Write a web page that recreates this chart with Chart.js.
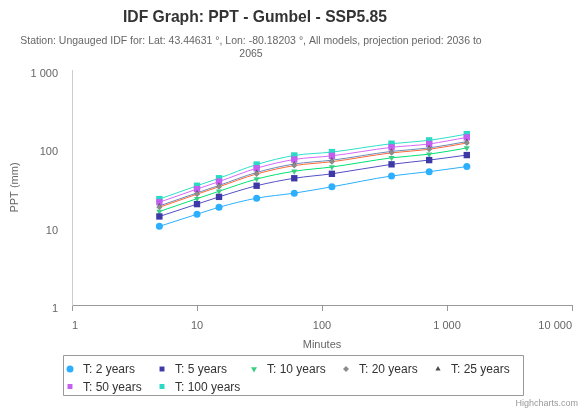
<!DOCTYPE html>
<html>
<head>
<meta charset="utf-8">
<title>IDF Graph</title>
<script src="https://cdn.jsdelivr.net/npm/chart.js"></script>
<style>
html, body { margin:0; padding:0; background:#fff; }
#wrap { width:581px; height:409px; position:relative; }
</style>
</head>
<body>
<div id="wrap"><canvas id="idfChart" width="581" height="409"></canvas></div>
<script>

const minutes = [5, 10, 15, 30, 60, 120, 360, 720, 1440];

const t2 = [10.1, 14.4, 17.7, 23.1, 26.8, 32.3, 44.4, 50.4, 58.5];
const t5 = [13.5, 19.4, 24.0, 33.3, 41.5, 47.3, 62.5, 70.8, 82.0];
const t10 = [15.6, 22.8, 28.3, 40.5, 51.0, 57.8, 75.6, 84.2, 101];
const t20 = [17.7, 26.0, 32.3, 47.1, 60.2, 67.5, 87.6, 97.1, 117];
const t25 = [18.4, 27.0, 33.6, 49.2, 63.1, 70.6, 91.4, 101.2, 122];
const t50 = [20.5, 30.2, 37.6, 55.7, 72.1, 80.2, 103.0, 113.8, 138];
const t100 = [22.5, 33.3, 41.5, 62.1, 81.1, 89.6, 114.6, 126.4, 152];

const seriesNames = ["T: 2 years", "T: 5 years", "T: 10 years", "T: 20 years", "T: 25 years", "T: 50 years", "T: 100 years"];
const seriesValues = [t2, t5, t10, t20, t25, t50, t100];

const xTickValues = [1, 10, 100, 1000, 10000];
const yTickValues = [1, 10, 100, 1000];

const titleText = "IDF Graph: PPT - Gumbel - SSP5.85";
const subtitleLines = [
    "Station: Ungauged IDF for: Lat: 43.44631 °, Lon: -80.18203 °, All models, projection period: 2036 to",
    "2065"
];

const lineColors = ["#2caffe", "#544fc5", "#00e272", "#fe6a35", "#6b8abc", "#d568fb", "#2ee0ca"];
const markerColors = ["#2caffe", "#3d3aa8", "#3ccf84", "#8c8c8c", "#4a4a4a", "#c45ff0", "#2bd9c4"];
const markerStyles = ["circle", "rect", "triangle", "rectRot", "triangle", "rect", "rect"];
const markerRotation = [0, 0, 180, 0, 0, 0, 0];
const markerRadius = [3.5, 4.5, 3.5, 3, 3, 4.5, 4.5];

function fmt(v){
    return String(v).replace(/\B(?=(\d{3})+(?!\d))/g, " ");
}

Chart.defaults.font.family = "'Liberation Sans', Arial, sans-serif";
Chart.defaults.color = "#666";

const datasets = seriesValues.map((vals, i) => ({
    label: seriesNames[i],
    data: vals.map((v, j) => ({x: minutes[j], y: v})),
    borderColor: lineColors[i],
    borderWidth: 1,
    backgroundColor: markerColors[i],
    pointBackgroundColor: markerColors[i],
    pointBorderWidth: 0,
    pointStyle: markerStyles[i],
    pointRotation: markerRotation[i],
    pointRadius: markerRadius[i],
    cubicInterpolationMode: "monotone",
    fill: false
}));

const titles = {
    id: "titles",
    afterDraw(chart){
        const ctx = chart.ctx;
        ctx.save();
        ctx.textAlign = "center";
        ctx.textBaseline = "middle";
        ctx.fillStyle = "#333";
        ctx.font = "bold 15.7px 'Liberation Sans', Arial, sans-serif";
        ctx.fillText(titleText, 255, 18);
        ctx.fillStyle = "#666";
        ctx.font = "10.5px 'Liberation Sans', Arial, sans-serif";
        subtitleLines.forEach((line, i) => {
            ctx.fillText(line, 251, 41 + i * 13.5);
        });
        ctx.restore();
    }
};

const legendBox = {
    id: "legendBox",
    afterDraw(chart){
        const ctx = chart.ctx;
        ctx.save();
        ctx.strokeStyle = "#999";
        ctx.lineWidth = 1;
        ctx.beginPath();
        ctx.rect(63.5, 355.5, 460, 40);
        ctx.stroke();

        ctx.font = "12px 'Liberation Sans', Arial, sans-serif";
        ctx.textBaseline = "middle";
        ctx.textAlign = "left";

        chart.data.datasets.forEach((ds, i) => {
            const col = i % 5;
            const row = Math.floor(i / 5);
            const x = 70 + col * 92;
            const y = 369 + row * 17.5;
            ctx.fillStyle = ds.pointBackgroundColor;
            ctx.strokeStyle = ds.pointBackgroundColor;
            if(Chart.helpers && Chart.helpers.drawPoint){
                Chart.helpers.drawPoint(ctx, {
                    pointStyle: ds.pointStyle,
                    radius: Math.min(ds.pointRadius, 3.5),
                    rotation: ds.pointRotation,
                    borderWidth: 0
                }, x, y);
            }else{
                ctx.beginPath();
                ctx.arc(x, y, 3, 0, Math.PI * 2);
                ctx.fill();
            }
            ctx.fillStyle = "#333";
            ctx.fillText(ds.label, x + 13, y + 1);
        });

        ctx.font = "9px 'Liberation Sans', Arial, sans-serif";
        ctx.fillStyle = "#999";
        ctx.textAlign = "right";
        ctx.fillText("Highcharts.com", 578, 404);
        ctx.restore();
    }
};

const ctx = document.getElementById("idfChart");

new Chart(ctx, {
    type: "line",
    data: { datasets: datasets },
    plugins: [titles, legendBox],
    options: {
        responsive: false,
        animation: false,
        layout: {
            padding: { left: 8, right: 9, bottom: 57, top: 70 }
        },
        plugins: {
            legend: { display: false },
            tooltip: { enabled: false },
            title: { display: false },
            subtitle: { display: false }
        },
        scales: {
            x: {
                type: "logarithmic",
                min: 1,
                max: 10000,
                afterBuildTicks: scale => {
                    scale.ticks = xTickValues.map(v => ({value: v}));
                },
                afterFit: scale => { scale.height = 47; },
                ticks: {
                    callback: v => fmt(v),
                    autoSkip: false,
                    maxRotation: 0,
                    align: "inner",
                    padding: 8,
                    color: "#666",
                    font: { size: 11 }
                },
                grid: {
                    drawOnChartArea: false,
                    drawTicks: true,
                    tickLength: 6,
                    color: "#999"
                },
                border: { display: true, color: "#999" },
                title: {
                    display: true,
                    text: "Minutes",
                    color: "#666",
                    font: { size: 11 },
                    padding: { top: 5, bottom: 0 }
                }
            },
            y: {
                type: "logarithmic",
                min: 1,
                max: 1000,
                afterBuildTicks: scale => {
                    scale.ticks = yTickValues.map(v => ({value: v}));
                },
                afterFit: scale => { scale.width = 64; },
                ticks: {
                    callback: v => fmt(v),
                    autoSkip: false,
                    padding: 14,
                    labelOffset: 4,
                    color: "#666",
                    font: { size: 11 }
                },
                grid: {
                    display: true,
                    drawOnChartArea: false,
                    drawTicks: false
                },
                border: { display: true, color: "#ccc" },
                title: {
                    display: true,
                    text: "PPT (mm)",
                    color: "#666",
                    font: { size: 11 },
                    padding: { top: 0, bottom: 0 }
                }
            }
        }
    }
});

</script>
</body>
</html>
